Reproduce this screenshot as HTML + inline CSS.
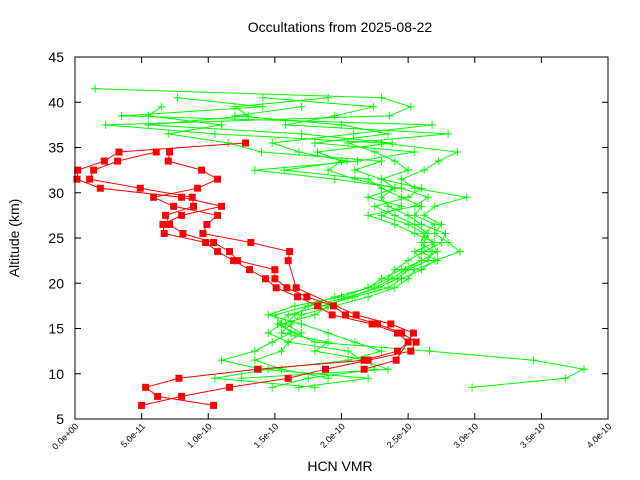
<!DOCTYPE html>
<html><head><meta charset="utf-8"><style>
body{margin:0;background:#fff}
svg{display:block;font-family:"Liberation Sans",sans-serif}
</style></head><body>
<svg id="chart" width="640" height="480" viewBox="0 0 640 480" xmlns="http://www.w3.org/2000/svg">
<rect width="640" height="480" fill="#fff"/>
<text x="340" y="32" font-size="14" text-anchor="middle">Occultations from 2025-08-22</text>
<g id="axes"></g>
<g id="series-green"></g>
<g id="series-red"></g>
<rect x="75" y="57" width="533" height="362" fill="none" stroke="#000" stroke-width="1"/>
<text x="340" y="471" font-size="14" text-anchor="middle">HCN VMR</text>
<text transform="translate(19,238) rotate(-90)" font-size="14" text-anchor="middle">Altitude (km)</text>
</svg>
<script>
const xTicks = [0, 0.5, 1.0, 1.5, 2.0, 2.5, 3.0, 3.5, 4.0];
const xTickLabels = ["0.0e+00","5.0e-11","1.0e-10","1.5e-10","2.0e-10","2.5e-10","3.0e-10","3.5e-10","4.0e-10"];
const yTicks = [5,10,15,20,25,30,35,40,45];

const redAx = [1.28,0.33,0.22,0.02,0.015,0.19,0.80,1.10,0.80,0.66,0.67,0.98,1.07,1.19,1.31,1.43,1.51,1.67,1.82,1.93,2.23,2.42,2.50,2.42,2.17,1.37,0.78,0.53,0.62,1.04];
const redAalt = [35.5,34.5,33.5,32.5,31.5,30.5,29.5,28.5,27.5,26.5,25.5,24.5,23.5,22.5,21.5,20.5,19.5,18.5,17.5,16.5,15.5,14.5,13.5,12.5,11.5,10.5,9.5,8.5,7.5,6.5];
const redBx = [0.61,0.32,0.14,0.11,0.49,0.88,0.89,0.68,0.71,0.81,1.04,1.16,1.22,1.50,1.50,1.59,1.74,1.94,2.03,2.27,2.45,2.56,2.52,2.20,1.88,1.60,1.16,0.80,0.50];
const redBalt = [34.5,33.5,32.5,31.5,30.5,29.5,28.5,27.5,26.5,25.5,24.5,23.5,22.5,21.5,20.5,19.5,18.5,17.5,16.5,15.5,14.5,13.5,12.5,11.5,10.5,9.5,8.5,7.5,6.5];
const redCx = [0.71,0.70,0.95,1.07,0.92,0.59,0.74,1.07,0.99,0.96,1.32,1.61,1.60,1.66,2.11,2.37,2.54,2.41,2.17];
const redCalt = [34.5,33.5,32.5,31.5,30.5,29.5,28.5,27.5,26.5,25.5,24.5,23.5,22.5,19.5,16.5,15.5,14.5,11.5,10.5];

const greenAlt = [41.5,40.5,39.5,38.5,37.5,36.5,35.5,34.5,33.5,32.5,31.5,30.5,29.5,28.5,27.5,26.5,25.5,24.5,23.5,22.5,21.5,20.5,19.5,18.5,17.5,16.5,15.5,14.5,13.5,12.5,11.5,10.5,9.5,8.5];
const green1 = [0.15,2.30,2.52,2.36,0.23,1.05,2.30,2.87,2.73,2.62,2.45,2.55,2.94,2.70,2.62,2.75,2.70,2.80,2.89,2.70,2.60,2.45,2.35,2.10,1.85,1.60,1.52,1.65,1.80,2.66,3.44,3.82,3.68,2.98];
const green2 = [null,0.77,1.41,0.35,2.68,2.09,1.48,1.68,2.04,1.57,2.20,2.30,2.45,2.60,2.55,2.70,2.62,2.68,2.72,2.60,2.45,2.30,2.20,1.95,1.75,1.50,1.55,1.62,1.48,1.35,1.10,1.40,2.20,1.68];
const green3 = [null,1.90,1.20,1.30,0.55,1.70,2.38,1.82,2.00,1.90,2.10,2.40,2.30,2.35,2.50,2.60,2.78,2.75,2.62,2.50,2.40,2.35,2.20,2.00,1.65,1.45,1.70,1.90,2.10,2.30,2.05,1.45,1.05,1.80];
const green4 = [null,1.41,2.24,1.95,1.58,2.80,2.05,2.25,2.40,2.50,2.30,2.60,2.50,2.25,2.40,2.55,2.65,2.62,2.60,2.72,2.55,2.50,2.40,2.20,1.95,1.70,1.62,1.55,1.90,1.80,2.20,2.25,1.75,1.48];
const green5 = [null,null,0.65,0.55,1.10,0.70,1.15,1.40,2.30,2.10,2.30,2.40,2.20,2.45,2.30,2.50,2.62,2.60,2.68,2.65,2.50,2.42,2.28,2.05,1.90,1.80,1.55,1.45,1.60,1.55,1.35,1.55,1.90,null];
const green6 = [null,null,1.70,1.20,2.00,2.35,1.80,2.55,2.12,1.35,1.95,2.45,2.65,2.55,2.20,2.40,2.55,2.70,2.55,2.60,2.48,2.38,2.25,2.08,1.75,1.65,1.58,1.70,1.60,2.05,2.15,2.35,1.25,null];

const X0=75,X1=608,Y0=419,Y1=57;
function sx(v){return X0+(v-0)/(4-0)*(X1-X0);}
function sy(a){return Y0-(a-5)/(45-5)*(Y0-Y1);}
const NS="http://www.w3.org/2000/svg";
function mk(tag,attrs,parent){const e=document.createElementNS(NS,tag);for(const k in attrs)e.setAttribute(k,attrs[k]);parent.appendChild(e);return e;}

const axes=document.getElementById('axes');
xTicks.forEach((t,i)=>{
  const x=sx(t);
  const a=mk('line',{x1:x,y1:Y0,x2:x,y2:Y0-6,stroke:'#000'},axes);
  
  
  const b=mk('line',{x1:x,y1:Y1,x2:x,y2:Y1+6,stroke:'#000'},axes);
  
  
  const tx=mk('text',{transform:`translate(${x+4},${Y0+8}) rotate(-45)`,'font-size':'9','text-anchor':'end'},axes);
  tx.textContent=xTickLabels[i];
  
  
});
yTicks.forEach(t=>{
  const y=sy(t);
  const a=mk('line',{x1:X0,y1:y,x2:X0+6,y2:y,stroke:'#000'},axes);
  
  
  const b=mk('line',{x1:X1,y1:y,x2:X1-6,y2:y,stroke:'#000'},axes);
  
  
  const tx=mk('text',{x:X0-11,y:y+5,'font-size':'14','text-anchor':'end'},axes);
  tx.textContent=String(t);
  
  
});

function drawSeries(xs,alts,color,marker,parent){
  let d='';let started=false;
  xs.forEach((v,i)=>{ if(v===null){started=false;return;} d+=(started?'L':'M')+sx(v).toFixed(1)+' '+sy(alts[i]).toFixed(1)+' '; started=true;});
  const p=mk('path',{d:d,fill:'none',stroke:color,'stroke-width':'1'},parent);
  
  
  xs.forEach((v,i)=>{
    if(v===null)return;
    const x=sx(v),y=sy(alts[i]);
    let m;
    if(marker==='square'){
      m=mk('rect',{x:x-3.5,y:y-3.5,width:7,height:7,fill:color},parent);
    }else{
      m=mk('path',{d:`M${x-4} ${y}H${x+4}M${x} ${y-4}V${y+4}`,stroke:color,'stroke-width':'1'},parent);
    }
    
    
  });
}
const gG=document.getElementById('series-green');
[green1,green2,green3,green4,green5,green6].forEach(s=>drawSeries(s,greenAlt,'#00ff00','plus',gG));
const gR=document.getElementById('series-red');
drawSeries(redAx,redAalt,'#ff0000','square',gR);
drawSeries(redBx,redBalt,'#ff0000','square',gR);
drawSeries(redCx,redCalt,'#ff0000','square',gR);
</script>
</body></html>
